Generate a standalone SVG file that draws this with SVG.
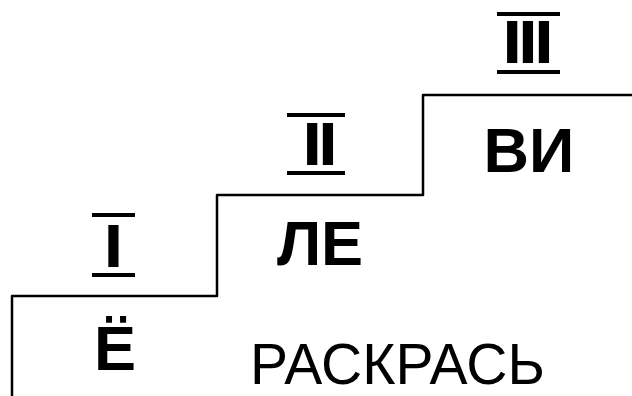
<svg xmlns="http://www.w3.org/2000/svg" width="632" height="396" viewBox="0 0 632 396">
<style>
.num{font-family:"Liberation Sans",Arial,sans-serif;font-weight:bold;font-size:57px;fill:#000;stroke:#000;stroke-width:2;text-anchor:middle}
.syl{font-family:"Liberation Sans",Arial,sans-serif;font-weight:bold;font-size:63px;fill:#000;text-anchor:middle}
.word{font-family:"Liberation Sans",Arial,sans-serif;font-size:57px;fill:#000;text-anchor:middle}
.bar{stroke:#000;stroke-width:4}
.stair{fill:none;stroke:#000;stroke-width:2.5;stroke-linejoin:round}
</style>
<rect width="632" height="396" fill="#fff"/>
<g id="connectors">
<path class="stair" d="M12,396 V296 H217 V195 H423 V95 H632"/>
</g>
<g id="step1">
<line class="bar" x1="92" y1="215" x2="135" y2="215"/>
<text class="num" x="113.5" y="266">I</text>
<line class="bar" x1="92" y1="275" x2="135" y2="275"/>
<text class="syl" x="115" y="370">Ё</text>
</g>
<g id="step2">
<line class="bar" x1="287" y1="115" x2="345" y2="115"/>
<text class="num" x="320" y="164">II</text>
<line class="bar" x1="287" y1="173" x2="345" y2="173"/>
<text class="syl" x="320" y="265">ЛЕ</text>
</g>
<g id="step3">
<line class="bar" x1="497" y1="14" x2="560" y2="14"/>
<text class="num" x="528" y="62">III</text>
<line class="bar" x1="497" y1="72" x2="560" y2="72"/>
<text class="syl" x="529" y="172">ВИ</text>
</g>
<g id="caption">
<text class="word" x="397.5" y="383.5">РАСКРАСЬ</text>
</g>
</svg>
